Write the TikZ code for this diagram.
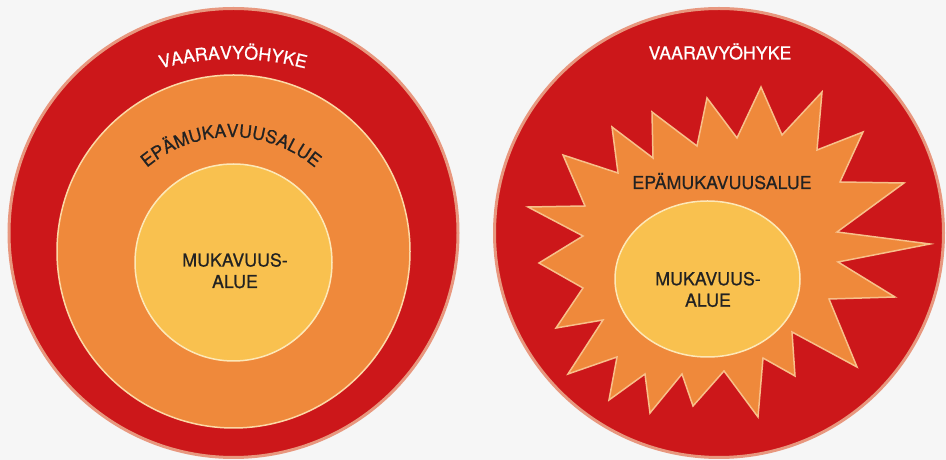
\documentclass[tikz,border=0pt]{standalone}
\usepackage{fontspec}
\setmainfont{TeX Gyre Heros}
\newfontfamily\zoneface{TeX Gyre Heros}[FakeBold=0.7]
\usetikzlibrary{decorations.text,shapes.geometric}

\definecolor{bgGray}{HTML}{F6F6F6}
\definecolor{dangerRed}{HTML}{CC171A}
\definecolor{rimSalmon}{HTML}{E8977E}
\definecolor{stretchOrange}{HTML}{EF893B}
\definecolor{comfortYellow}{HTML}{F9C14F}
\definecolor{creamLine}{HTML}{FCD9A6}
\definecolor{paleLine}{HTML}{FDE8B8}
\definecolor{starLine}{HTML}{F8C08A}
\definecolor{labelDark}{HTML}{222222}

\newcommand{\zonefont}{\zoneface\fontsize{17.8}{21.5}\selectfont}

\begin{document}
\begin{tikzpicture}[x=1pt,y=1pt,
    zone/.style={circle,inner sep=0pt,outer sep=0pt},
    danger/.style={zone,fill=dangerRed,draw=rimSalmon,line width=3pt,minimum size=449pt},
    stretch/.style={zone,fill=stretchOrange,draw=creamLine,line width=1.5pt},
    comfort/.style={zone,fill=comfortYellow,draw=paleLine,line width=1.5pt},
    zonelabel/.style={font=\zonefont,text=labelDark,align=center,anchor=base,inner sep=0pt},
    dangerlabel/.style={zonelabel,text=white}]

    \useasboundingbox (0,0) rectangle (946,460);
    \fill[bgGray] (0,0) rectangle (946,460);

    % left: nested circles
    \node[danger] (dangerL) at (233.5,227) {};
    \node[stretch,minimum size=353pt] (stretchL) at (233.5,208.5) {};
    \node[comfort,minimum size=197pt] (comfortL) at (233.5,197.5) {};

    \coordinate (arcDL) at (233,121);
    \coordinate (arcSL) at (231,193);
    \path[decorate,decoration={text along path,text align=center,
        text={|\zonefont\color{white}|VAARAVYÖHYKE}}]
        ([shift={(110:280)}]arcDL) arc[start angle=110,end angle=70,radius=280];
    \path[decorate,decoration={text along path,text align=center,
        text={|\zonefont\color{labelDark}|EPÄMUKAVUUSALUE}}]
        ([shift={(140:130)}]arcSL) arc[start angle=140,end angle=40,radius=130];

    % base anchor sits on the last line
    \node[zonelabel] (comfortTextL) at (235,172) {MUKAVUUS-\\ALUE};

    % right: circle with star
    \node[danger] (dangerR) at (719,227) {};

    \draw[fill=stretchOrange,draw=starLine,line width=1.5pt,line join=miter]
        (528,253) -- (585,254) -- (563,305) -- (618,287) -- (612,333) -- (653,302)
        -- (652,348) -- (697,314) -- (707,362) -- (737,322) -- (761,373) -- (782,325)
        -- (822,368) -- (817,310) -- (863,328) -- (840,278) -- (904,277) -- (837,228)
        -- (930,216) -- (838,198) -- (895,163) -- (829,161) -- (857,93) -- (792,128)
        -- (795,84) -- (763,102) -- (758,43) -- (724,89) -- (693,54) -- (682,86)
        -- (650,47) -- (645,86) -- (609,60) -- (617,103) -- (568,86) -- (603,140)
        -- (556,132) -- (583,172) -- (539,197) -- (583,224) -- cycle;

    \node[ellipse,inner sep=0pt,fill=comfortYellow,draw=paleLine,line width=1.5pt,
        minimum width=185pt,minimum height=156pt] (comfortR) at (707.5,181) {};

    \node[dangerlabel] (dangerTextR) at (720,400.7) {VAARAVYÖHYKE};
    \node[zonelabel] (stretchTextR) at (722,271) {EPÄMUKAVUUSALUE};
    \node[zonelabel] (comfortTextR) at (708,153.3) {MUKAVUUS-\\ALUE};

\end{tikzpicture}
\end{document}
